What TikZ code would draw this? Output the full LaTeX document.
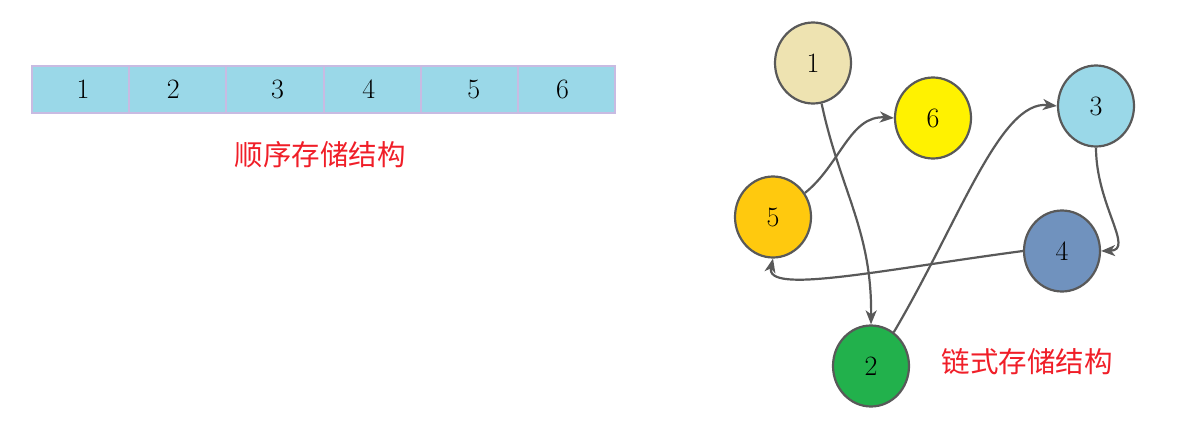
\documentclass[tikz,border=0pt]{standalone}
\usepackage{fontspec}
\newfontfamily\cjk{Noto Sans CJK SC}
\usetikzlibrary{shapes.geometric,arrows.meta}
\definecolor{cellblue}{HTML}{9AD8E8}
\definecolor{cellborder}{HTML}{C8BBE2}
\definecolor{edgegray}{HTML}{595959}
\definecolor{cwheat}{HTML}{EEE3B1}
\definecolor{cyellow}{HTML}{FFF200}
\definecolor{cgold}{HTML}{FFC90E}
\definecolor{csteel}{HTML}{7092BE}
\definecolor{cgreen}{HTML}{22B14C}
\definecolor{labelred}{HTML}{F01E28}
\tikzset{
  cell/.style={rectangle, draw=cellborder, fill=cellblue, line width=2pt,
    minimum width=97.2pt, minimum height=47pt, inner sep=0pt, outer sep=0pt,
    font=\fontsize{28}{30}\selectfont},
  ball/.style={ellipse, draw=edgegray, line width=2.2pt, minimum width=76pt,
    minimum height=81pt, inner sep=0pt, font=\fontsize{28}{30}\selectfont},
  link/.style={draw=edgegray, line width=2.2pt, -{Stealth[length=14pt,width=11pt,inset=4pt]}},
  captext/.style={text=labelred, font=\cjk\fontsize{28.5}{32}\selectfont}
}
\begin{document}
\begin{tikzpicture}[x=1pt,y=-1pt]
\useasboundingbox (0,0) rectangle (1195,439);
% sequential storage
\node[cell] (c1) at (80.6,89.5) {\hspace*{5pt}1};
\node[cell] (c2) at (177.8,89.5) {2\hspace*{9pt}};
\node[cell] (c3) at (275.0,89.5) {\hspace*{5pt}3};
\node[cell] (c4) at (372.2,89.5) {4\hspace*{7pt}};
\node[cell] (c5) at (469.4,89.5) {\hspace*{9pt}5};
\node[cell] (c6) at (566.6,89.5) {6\hspace*{8pt}};
\node[captext] (seqlabel) at (320,155) {顺序存储结构};
% linked storage
\node[ball, fill=cwheat] (n1) at (813,63) {1};
\node[ball, fill=cyellow] (n6) at (933,118) {6};
\node[ball, fill=cellblue] (n3) at (1096,106) {3};
\node[ball, fill=cgold] (n5) at (773,217) {5};
\node[ball, fill=csteel] (n4) at (1062,251) {4};
\node[ball, fill=cgreen] (n2) at (871,366) {2};
\node[captext] (linklabel) at (1027,362) {链式存储结构};
\draw[link] (n1.-78) .. controls (840,190) and (872,230) .. (n2.north);
\draw[link] (n5.37) .. controls (840,165) and (850,115) .. (n6.west);
\draw[link] (n2.56) .. controls (960,220) and (1000,100) .. (n3.west);
\draw[link] (n3.south) .. controls (1096,205) and (1135,250) .. (n4.east);
\draw[link] (n4.west) .. controls (880,270) and (765,295) .. (n5.south);
\end{tikzpicture}
\end{document}
